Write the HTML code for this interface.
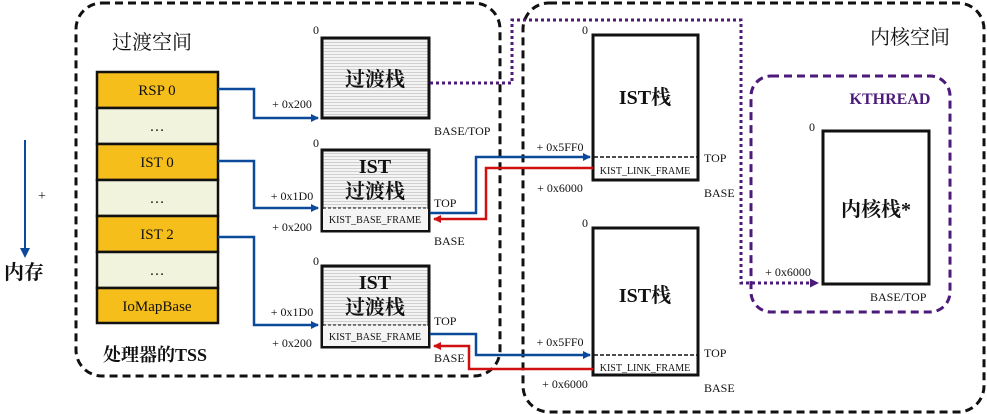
<!DOCTYPE html>
<html><head><meta charset="utf-8"><style>
html,body{margin:0;padding:0;background:#fff;}
svg{display:block;}
text{font-family:"Liberation Serif","Noto Serif CJK SC",serif;fill:#111;}
.s{font-size:12px;}
.b{font-weight:bold;}
</style></head><body>
<svg width="987" height="414" viewBox="0 0 987 414" xmlns="http://www.w3.org/2000/svg">
<defs>
<pattern id="hl" width="4" height="3" patternUnits="userSpaceOnUse">
<rect width="4" height="3" fill="#f4f4f4"/><rect width="4" height="1" fill="#cfcfcf"/></pattern>
<marker id="ab" markerWidth="8" markerHeight="8" refX="7" refY="4" orient="auto" markerUnits="userSpaceOnUse"><path d="M0,0L8,4L0,8z" fill="#0b4a9a"/></marker>
<marker id="ar" markerWidth="8" markerHeight="8" refX="7" refY="4" orient="auto" markerUnits="userSpaceOnUse"><path d="M0,0L8,4L0,8z" fill="#d01010"/></marker>
<marker id="ap" markerWidth="9" markerHeight="9" refX="8" refY="4.5" orient="auto" markerUnits="userSpaceOnUse"><path d="M0,0L9,4.5L0,9z" fill="#4b1a7a"/></marker>
</defs>
<!-- region boxes -->
<rect x="76" y="3" width="424" height="373" rx="26" fill="none" stroke="#111" stroke-width="3" stroke-dasharray="8,5"/>
<rect x="523" y="3" width="461" height="409" rx="26" fill="none" stroke="#111" stroke-width="3" stroke-dasharray="8,5"/>
<rect x="751" y="76" width="199" height="236" rx="20" fill="none" stroke="#4b1a7a" stroke-width="3" stroke-dasharray="8,5"/>
<text x="152" y="49" font-size="20" text-anchor="middle">过渡空间</text>
<text x="910" y="44" font-size="20" text-anchor="middle">内核空间</text>
<text x="890" y="104" font-size="16" class="b" text-anchor="middle" style="fill:#4b1a7a">KTHREAD</text>
<!-- memory arrow -->
<line x1="25" y1="140" x2="25" y2="250" stroke="#0b4a9a" stroke-width="2"/>
<path d="M20,248L25,258L30,248z" fill="#0b4a9a"/>
<text x="42" y="200" font-size="14" text-anchor="middle">+</text>
<text x="24" y="279" font-size="20" class="b" text-anchor="middle">内存</text>
<!-- TSS -->
<g stroke="#111" stroke-width="2.5">
<rect x="97" y="72" width="121" height="36" fill="#f5be1a"/>
<rect x="97" y="108" width="121" height="36" fill="#f1f3dc"/>
<rect x="97" y="144" width="121" height="36" fill="#f5be1a"/>
<rect x="97" y="180" width="121" height="36" fill="#f1f3dc"/>
<rect x="97" y="216" width="121" height="36" fill="#f5be1a"/>
<rect x="97" y="252" width="121" height="36" fill="#f1f3dc"/>
<rect x="97" y="288" width="121" height="35" fill="#f5be1a"/>
</g>
<g font-size="15" text-anchor="middle">
<text x="157" y="95">RSP 0</text><text x="157" y="131">…</text>
<text x="157" y="167">IST 0</text><text x="157" y="203">…</text>
<text x="157" y="239">IST 2</text><text x="157" y="275">…</text>
<text x="157" y="311">IoMapBase</text>
</g>
<text x="155" y="361" font-size="18" class="b" text-anchor="middle">处理器的TSS</text>
<!-- transition stacks -->
<rect x="322" y="38" width="107" height="80" fill="url(#hl)" stroke="#111" stroke-width="3"/>
<text x="375" y="86" font-size="20" class="b" text-anchor="middle">过渡栈</text>
<text x="316" y="34" class="s" text-anchor="middle">0</text>
<text x="292" y="108" class="s" text-anchor="middle">+ 0x200</text>
<text x="434" y="135" class="s">BASE/TOP</text>

<rect x="322" y="150" width="107" height="81" fill="url(#hl)" stroke="#111" stroke-width="3"/>
<line x1="323" y1="208" x2="428" y2="208" stroke="#111" stroke-width="1" stroke-dasharray="3,2"/>
<rect x="323" y="209" width="105" height="21" fill="#f4f4f4"/>
<text x="375" y="173" font-size="20" class="b" text-anchor="middle">IST</text>
<text x="375" y="198" font-size="20" class="b" text-anchor="middle">过渡栈</text>
<text x="375" y="223" font-size="10" text-anchor="middle">KIST_BASE_FRAME</text>
<text x="316" y="147" class="s" text-anchor="middle">0</text>
<text x="292" y="200" class="s" text-anchor="middle">+ 0x1D0</text>
<text x="292" y="231" class="s" text-anchor="middle">+ 0x200</text>
<text x="434" y="207" class="s">TOP</text>
<text x="434" y="245" class="s">BASE</text>

<rect x="322" y="266" width="107" height="81" fill="url(#hl)" stroke="#111" stroke-width="3"/>
<line x1="323" y1="325" x2="428" y2="325" stroke="#111" stroke-width="1" stroke-dasharray="3,2"/>
<rect x="323" y="326" width="105" height="20" fill="#f4f4f4"/>
<text x="375" y="289" font-size="20" class="b" text-anchor="middle">IST</text>
<text x="375" y="314" font-size="20" class="b" text-anchor="middle">过渡栈</text>
<text x="375" y="340" font-size="10" text-anchor="middle">KIST_BASE_FRAME</text>
<text x="316" y="265" class="s" text-anchor="middle">0</text>
<text x="292" y="316" class="s" text-anchor="middle">+ 0x1D0</text>
<text x="292" y="347" class="s" text-anchor="middle">+ 0x200</text>
<text x="434" y="325" class="s">TOP</text>
<text x="434" y="362" class="s">BASE</text>
<!-- IST stacks -->
<rect x="593" y="35" width="105" height="145" fill="#fff" stroke="#111" stroke-width="3"/>
<line x1="594" y1="157" x2="698" y2="157" stroke="#111" stroke-width="1.5" stroke-dasharray="4,2"/>
<text x="645" y="104" font-size="20" class="b" text-anchor="middle">IST栈</text>
<text x="645" y="174" font-size="10" text-anchor="middle">KIST_LINK_FRAME</text>
<text x="585" y="34" class="s" text-anchor="middle">0</text>
<text x="560" y="151" class="s" text-anchor="middle">+ 0x5FF0</text>
<text x="560" y="192" class="s" text-anchor="middle">+ 0x6000</text>
<text x="704" y="162" class="s">TOP</text>
<text x="704" y="197" class="s">BASE</text>

<rect x="593" y="228" width="105" height="147" fill="#fff" stroke="#111" stroke-width="3"/>
<line x1="594" y1="355" x2="698" y2="355" stroke="#111" stroke-width="1.5" stroke-dasharray="4,2"/>
<text x="645" y="302" font-size="20" class="b" text-anchor="middle">IST栈</text>
<text x="645" y="371" font-size="10" text-anchor="middle">KIST_LINK_FRAME</text>
<text x="585" y="227" class="s" text-anchor="middle">0</text>
<text x="560" y="346" class="s" text-anchor="middle">+ 0x5FF0</text>
<text x="565" y="388" class="s" text-anchor="middle">+ 0x6000</text>
<text x="704" y="357" class="s">TOP</text>
<text x="704" y="392" class="s">BASE</text>
<!-- kernel stack -->
<rect x="823" y="131" width="106" height="153" fill="#fff" stroke="#111" stroke-width="3"/>
<text x="876" y="216" font-size="20" class="b" text-anchor="middle">内核栈*</text>
<text x="812" y="131" class="s" text-anchor="middle">0</text>
<text x="788" y="276" class="s" text-anchor="middle">+ 0x6000</text>
<text x="870" y="301" class="s">BASE/TOP</text>
<!-- blue arrows -->
<g fill="none" stroke="#0b4a9a" stroke-width="2.5">
<path d="M218,89H254V118H318" marker-end="url(#ab)"/>
<path d="M218,161H254V208H318" marker-end="url(#ab)"/>
<path d="M218,237H254V325H318" marker-end="url(#ab)"/>
<path d="M430,213H476V157H590" marker-end="url(#ab)"/>
<path d="M430,334H476V355H590" marker-end="url(#ab)"/>
</g>
<g fill="none" stroke="#d01010" stroke-width="2.5">
<path d="M593,168H486V219H434" marker-end="url(#ar)"/>
<path d="M593,369H469V346H434" marker-end="url(#ar)"/>
</g>
<!-- purple dotted -->
<path d="M430,83H512V20H741V283H818" fill="none" stroke="#4b1a7a" stroke-width="3" stroke-dasharray="3,3" marker-end="url(#ap)"/>
</svg>
</body></html>
